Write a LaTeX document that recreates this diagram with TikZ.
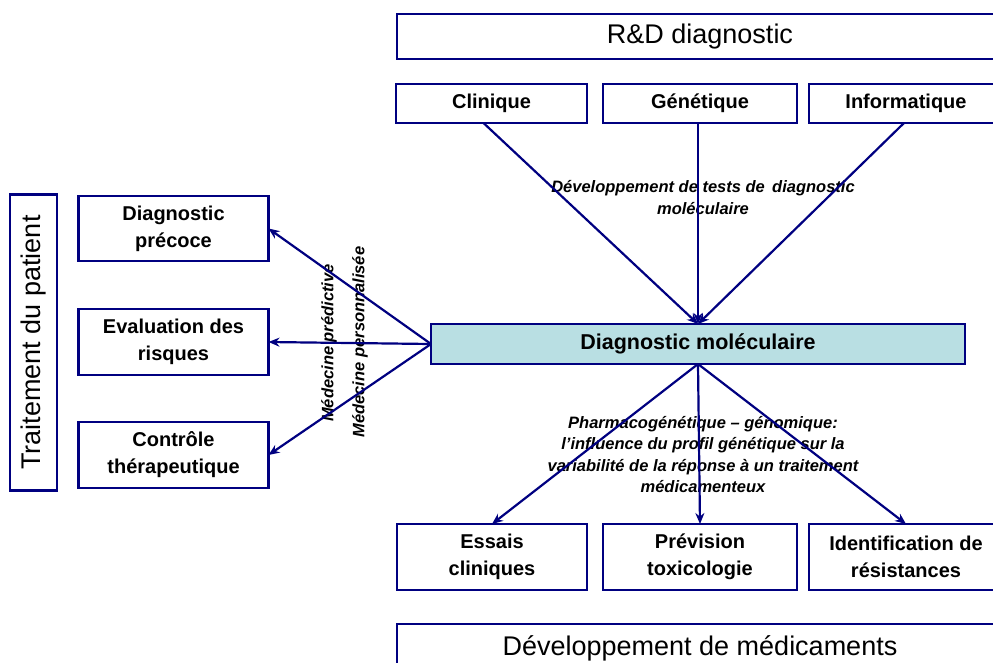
\documentclass[tikz,border=0pt]{standalone}
\usepackage{fontspec}
\setmainfont{Liberation Sans}
\usetikzlibrary{arrows.meta,positioning}
\definecolor{navyline}{RGB}{0,0,128}
\definecolor{dmfill}{RGB}{185,223,227}
\tikzstyle{boxy} = [rectangle, draw=navyline, line width=2.6pt, outer sep=0pt, align=center, font=\fontsize{20}{27}\selectfont\bfseries]
\tikzstyle{headbox} = [rectangle, draw=navyline, line width=2.6pt, outer sep=0pt, align=center, font=\fontsize{27}{32}\selectfont]
\tikzstyle{arrow} = [navyline, line width=2.2pt, -{Stealth[length=11pt,width=9pt]}]
\tikzstyle{note} = [align=center, font=\fontsize{16.5}{21.5}\selectfont\bfseries\itshape]

\begin{document}
\begin{tikzpicture}[x=1pt,y=-1pt]
        \clip[use as bounding box] (0,0) rectangle (993,662);
        % R&D side
        \node (rd) [headbox, minimum width=606pt, minimum height=45pt] at (700,36.5) {\raisebox{-3pt}{R\&D diagnostic}};
        \node (clin) [boxy, minimum width=191pt, minimum height=39pt] at (491.5,103.5) {Clinique};
        \node (gen) [boxy, minimum width=194pt, minimum height=39pt, right=16pt of clin] {Génétique};
        \node (info) [boxy, minimum width=194pt, minimum height=39pt, right=12pt of gen] {Informatique};
        \node (dm) [boxy, fill=dmfill, minimum width=534pt, minimum height=40pt, font=\fontsize{21.5}{27}\selectfont\bfseries] at (698,344) {Diagnostic moléculaire};
        % patient side
        \node (trait) [headbox, rotate=90, minimum width=296pt, minimum height=47pt] at (33.5,342.5) {Traitement du patient};
        \node (diag) [boxy, minimum width=190pt, minimum height=65pt] at (173.5,228.5) {Diagnostic\\précoce};
        \node (eval) [boxy, minimum width=190pt, minimum height=66pt, below=48pt of diag] {Evaluation des\\risques};
        \node (ctrl) [boxy, minimum width=190pt, minimum height=66pt, below=47pt of eval] {Contrôle\\thérapeutique};
        % medicaments side
        \node (essais) [boxy, minimum width=190pt, minimum height=66pt] at (492,557) {Essais\\cliniques};
        \node (prev) [boxy, minimum width=194pt, minimum height=66pt, right=16pt of essais] {Prévision\\toxicologie};
        \node (ident) [boxy, minimum width=194pt, minimum height=66pt, right=12pt of prev] {Identification de\\résistances};
        \node (devm) [headbox, minimum width=606pt, minimum height=48pt] at (700,648) {Développement de médicaments};
        %
        \node (devlabel) [note] at (703,197.5) {Développement de tests de\, diagnostic\\moléculaire};
        \node (pharmlabel) [note] at (703,454.5) {Pharmacogénétique -- génomique:\\l'influence du profil génétique sur la\\variabilité de la réponse à un traitement\\médicamenteux};
        \node (predlabel) [note, rotate=90] at (329,343) {Médecine prédictive};
        \node (perslabel) [note, rotate=90] at (360,342) {Médecine personnalisée};
        %
        \draw [arrow] ([xshift=-8pt]clin.south) -- (dm.north);
        \draw [arrow] ([xshift=-2pt]gen.south) -- (dm.north);
        \draw [arrow] ([xshift=-2pt]info.south) -- (dm.north);
        \draw [arrow] (dm.west) -- (diag.east);
        \draw [arrow] (dm.west) -- (eval.east);
        \draw [arrow] (dm.west) -- (ctrl.east);
        \draw [arrow] (dm.south) -- (essais.north);
        \draw [arrow] (dm.south) -- (prev.north);
        \draw [arrow] (dm.south) -- (ident.north);
    \end{tikzpicture}
\end{document}
